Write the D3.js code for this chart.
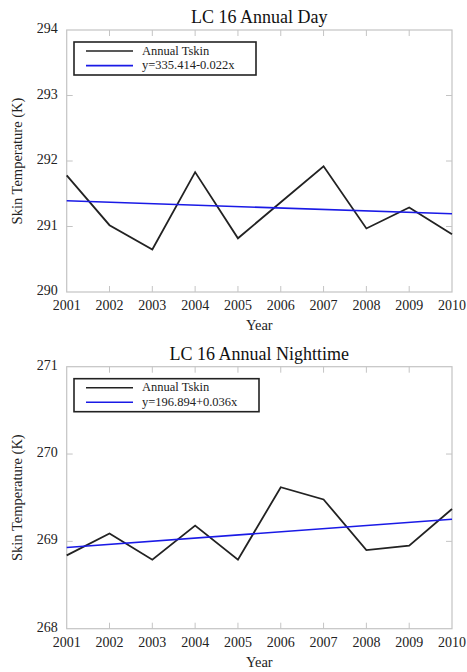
<!DOCTYPE html>
<html>
<head>
<meta charset="utf-8">
<script src="https://cdn.jsdelivr.net/npm/d3@7"></script>
<style>
    body { margin: 0; background: #fff; }
    svg { display: block; font-family: "Liberation Serif", "Times New Roman", serif; }
    .frame { fill: none; stroke: #c4c4c4; stroke-width: 1.2; }
    .tick-mark { stroke: #c4c4c4; stroke-width: 1; }
    .tick-label { font-size: 14px; fill: #222; }
    .axis-label { font-size: 14.5px; fill: #222; }
    .title { font-size: 18px; fill: #111; }
    .data-line { fill: none; stroke: #222; stroke-width: 1.8; stroke-linejoin: miter; }
    .fit-line { fill: none; stroke: #1a1ae6; stroke-width: 1.6; }
    .legend-box { fill: #fff; stroke: #222; stroke-width: 1.6; }
    .legend-text { font-size: 12.5px; fill: #222; }
</style>
</head>
<body>
<svg id="chart" width="467" height="672"></svg>
<script>
// --- DATA ---
const years = [2001, 2002, 2003, 2004, 2005, 2006, 2007, 2008, 2009, 2010];
const dayTskin = [291.78, 291.02, 290.65, 291.83, 290.82, 291.37, 291.92, 290.97, 291.29, 290.88];
const nightTskin = [268.84, 269.09, 268.79, 269.18, 268.79, 269.62, 269.48, 268.90, 268.95, 269.37];
const dayFit = [335.414, -0.022];
const nightFit = [196.894, 0.036];
const dayTicks = [290, 291, 292, 293, 294];
const nightTicks = [268, 269, 270, 271];
const dayLegend = ["Annual Tskin", "y=335.414-0.022x"];
const nightLegend = ["Annual Tskin", "y=196.894+0.036x"];

// --- LAYOUT ---
const left = 66.7, right = 452;
const plotH = 262;
const svg = d3.select("#chart");

const xScale = d3.scaleLinear().domain([2001, 2010]).range([left, right]);

function drawPanel(cfg) {
    const top = cfg.top;
    const bottom = top + plotH;
    const yScale = d3.scaleLinear()
        .domain(d3.extent(cfg.ticks))
        .range([bottom, top]);

    const g = svg.append("g");

    // frame
    g.append("rect")
        .attr("class", "frame")
        .attr("x", left).attr("y", top)
        .attr("width", right - left).attr("height", plotH);

    // tick marks (inside, mirrored on all four sides)
    const tickLen = 6;
    years.slice(1, -1).forEach(yr => {
        const x = xScale(yr);
        g.append("line").attr("class", "tick-mark")
            .attr("x1", x).attr("x2", x).attr("y1", bottom).attr("y2", bottom - tickLen);
        g.append("line").attr("class", "tick-mark")
            .attr("x1", x).attr("x2", x).attr("y1", top).attr("y2", top + tickLen);
    });
    cfg.ticks.slice(1, -1).forEach(t => {
        const y = yScale(t);
        g.append("line").attr("class", "tick-mark")
            .attr("x1", left).attr("x2", left + tickLen).attr("y1", y).attr("y2", y);
        g.append("line").attr("class", "tick-mark")
            .attr("x1", right).attr("x2", right - tickLen).attr("y1", y).attr("y2", y);
    });

    // tick labels
    g.selectAll(".x-label")
        .data(years)
        .join("text")
        .attr("class", "tick-label")
        .attr("text-anchor", "middle")
        .attr("x", d => xScale(d))
        .attr("y", bottom + 18)
        .text(d => d);

    g.selectAll(".y-label")
        .data(cfg.ticks)
        .join("text")
        .attr("class", "tick-label")
        .attr("text-anchor", "end")
        .attr("x", left - 9)
        .attr("y", d => yScale(d) + 3)
        .text(d => d);

    // axis labels + title
    g.append("text")
        .attr("class", "axis-label")
        .attr("text-anchor", "middle")
        .attr("x", (left + right) / 2)
        .attr("y", bottom + 38)
        .text("Year");

    g.append("text")
        .attr("class", "axis-label")
        .attr("text-anchor", "middle")
        .attr("transform", `translate(22,${(top + bottom) / 2}) rotate(-90)`)
        .text("Skin Temperature (K)");

    g.append("text")
        .attr("class", "title")
        .attr("text-anchor", "middle")
        .attr("x", (left + right) / 2)
        .attr("y", top - 7)
        .text(cfg.title);

    // data line
    const line = d3.line().x(d => xScale(d[0])).y(d => yScale(d[1]));
    g.append("path")
        .attr("class", "data-line")
        .attr("d", line(years.map((yr, i) => [yr, cfg.values[i]])));

    // linear fit from the legend coefficients
    const ends = [years[0], years[years.length - 1]];
    g.append("path")
        .attr("class", "fit-line")
        .attr("d", line(ends.map(yr => [yr, cfg.fit[0] + cfg.fit[1] * yr])));

    // legend
    const lg = g.append("g").attr("transform", `translate(74,${top + 12})`);
    lg.append("rect")
        .attr("class", "legend-box")
        .attr("width", cfg.legendW).attr("height", 33);
    [["#222", 9], ["#1a1ae6", 23.6]].forEach((s, i) => {
        lg.append("line")
            .attr("x1", 12).attr("x2", 59)
            .attr("y1", s[1]).attr("y2", s[1])
            .attr("stroke", s[0]).attr("stroke-width", 1.6);
        lg.append("text")
            .attr("class", "legend-text")
            .attr("x", 68)
            .attr("y", s[1] + 3.5)
            .text(cfg.legend[i]);
    });
}

drawPanel({ top: 30, title: "LC 16 Annual Day", ticks: dayTicks, values: dayTskin, fit: dayFit, legend: dayLegend, legendW: 182 });
drawPanel({ top: 366.7, title: "LC 16 Annual Nighttime", ticks: nightTicks, values: nightTskin, fit: nightFit, legend: nightLegend, legendW: 185 });
</script>
</body>
</html>
